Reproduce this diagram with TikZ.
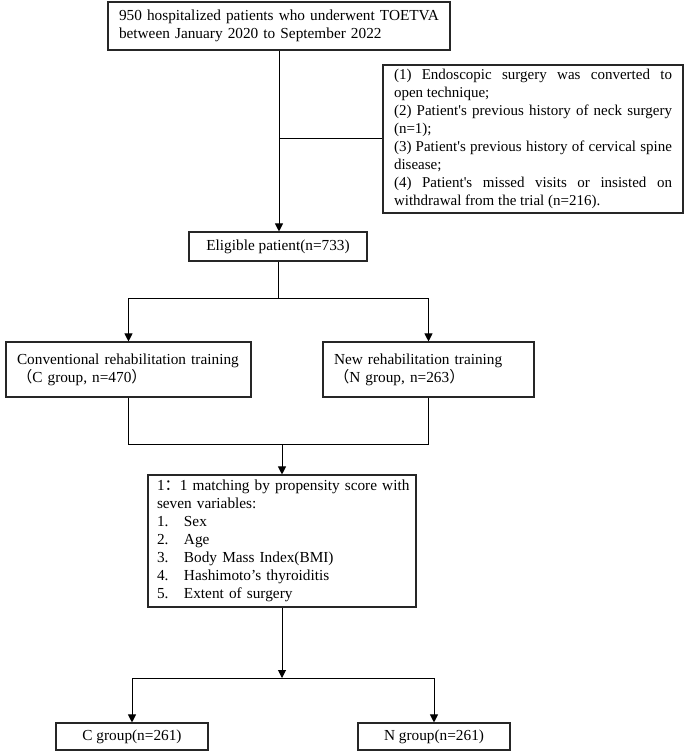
\documentclass[tikz,border=0pt]{standalone}
\usepackage{fontspec}
\setmainfont{Liberation Serif}
\newfontfamily\rawserif{Liberation Serif}
\newfontfamily\cjk{Noto Sans CJK SC}
\usetikzlibrary{arrows.meta}
\begin{document}
\begin{tikzpicture}[x=1pt,y=-1pt,
  box/.style={draw=black!85, line width=1.1pt, inner xsep=11pt, inner ysep=2pt,
    font=\fontsize{15.3}{18}\selectfont},
  conn/.style={line width=1pt, draw=black},
  arr/.style={conn, -{Triangle[length=8pt,width=8pt]}}]
\useasboundingbox (0,0) rectangle (685,754);

\node[box, text width=320pt, minimum height=48pt, align=left] (top) at (279,26)
  {950 hospitalized patients who underwent TOETVA\\between January 2020 to September 2022};

\node[box, text width=278pt, minimum height=148pt, align=justify, font=\rawserif\fontsize{15}{18}\selectfont] (excl) at (533,139)
  {(1) Endoscopic surgery was converted to\linebreak open technique;\par
   (2) Patient's previous history of neck surgery\linebreak (n=1);\par
   (3) Patient's previous history of cervical spine\linebreak disease;\par
   (4) Patient's missed visits or insisted on\linebreak withdrawal from the trial (n=216).};

\node[box, minimum width=178pt, minimum height=29pt] (elig) at (278,246.5) {Eligible patient(n=733)};

\node[box, text width=223pt, minimum height=55pt, align=left] (conv) at (128.5,369.5)
  {Conventional rehabilitation training\\{\cjk （}C group, n=470{\cjk ）}};
\node[box, text width=189pt, minimum height=55pt, align=left] (new) at (428.5,369.5)
  {New rehabilitation training\\{\cjk （}N group, n=263{\cjk ）}};

\node[box, text width=250pt, inner xsep=9pt, minimum height=132pt, align=left] (match) at (282,541)
  {\mbox{1{\cjk ：}1 matching by propensity score with}\\
   seven variables:\\
   \makebox[27pt][l]{1.}Sex\\
   \makebox[27pt][l]{2.}Age\\
   \makebox[27pt][l]{3.}Body Mass Index(BMI)\\
   \makebox[27pt][l]{4.}Hashimoto’s thyroiditis\\
   \makebox[27pt][l]{5.}Extent of surgery};

\node[box, minimum width=152pt, minimum height=27pt] (cg) at (132,736.5) {C group(n=261)};
\node[box, minimum width=152pt, minimum height=27pt] (ng) at (434,736.5) {N group(n=261)};

\coordinate (j1) at (278,298);
\coordinate (j2) at (282,444);
\coordinate (j3) at (282,678);

\draw[arr] (top.south) -- (top.south |- elig.north);
\draw[conn] (top.south |- excl.west) -- (excl.west);

\draw[conn] (elig.south) -- (j1);
\draw[arr] (j1) -| (conv.north);
\draw[arr] (j1) -| (new.north);

\draw[conn] (conv.south) |- (j2);
\draw[conn] (new.south) |- (j2);
\draw[arr] (j2) -- (match.north);

\draw[arr] (match.south) -- (j3);
\draw[arr] (j3) -| (cg.north);
\draw[arr] (j3) -| (ng.north);
\end{tikzpicture}
\end{document}
